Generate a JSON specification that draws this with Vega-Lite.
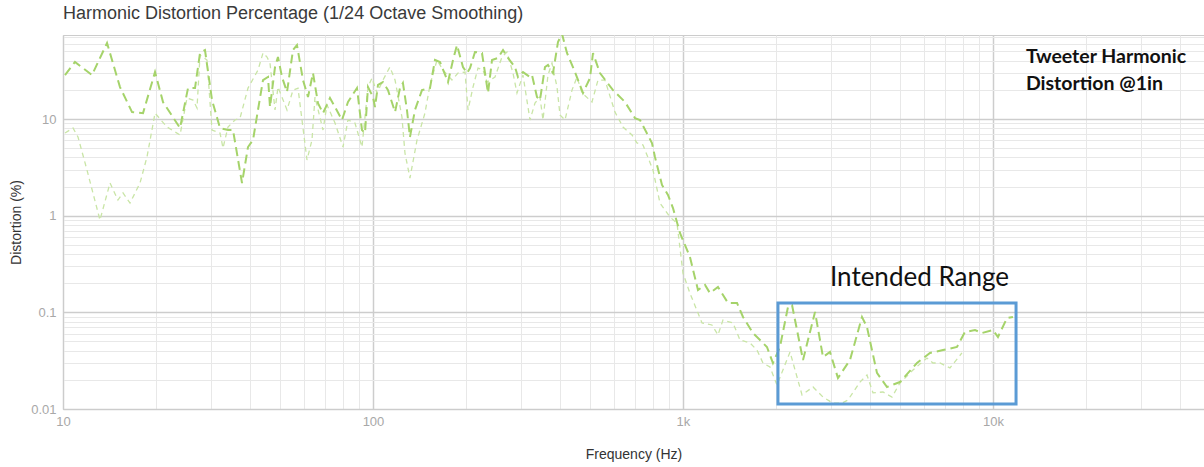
{
  "$schema": "https://vega.github.io/schema/vega-lite/v6.json",
  "width": 1141,
  "height": 374,
  "autosize": "none",
  "padding": {"left": 63, "top": 35, "right": 0, "bottom": 58},
  "background": "white",
  "config": {
    "view": {"stroke": "#cccccc"},
    "font": "Liberation Sans"
  },
  "title": {
    "text": "Harmonic Distortion Percentage (1/24 Octave Smoothing)",
    "anchor": "start",
    "frame": "group",
    "offset": 8,
    "fontSize": 18,
    "fontWeight": "normal",
    "color": "#3a3a3a",
    "font": "Liberation Sans"
  },
  "datasets": {
    "curves": [
      {"s":"A","f":10.15,"v":28.5},{"s":"A","f":10.93,"v":38.9},{"s":"A","f":12.4,"v":28.5},{"s":"A","f":13.87,"v":61.1},{"s":"A","f":15.27,"v":21.4},{"s":"A","f":16.7,"v":11.8},{"s":"A","f":18.12,"v":11.5},{"s":"A","f":19.81,"v":30.6},{"s":"A","f":21.02,"v":15.0},{"s":"A","f":23.85,"v":8.07},{"s":"A","f":25.31,"v":20.9},{"s":"A","f":26.66,"v":20.9},{"s":"A","f":27.67,"v":48.2},{"s":"A","f":28.71,"v":51.7},{"s":"A","f":30.25,"v":15.7},{"s":"A","f":32.1,"v":8.07},{"s":"A","f":34.06,"v":7.7},{"s":"A","f":35.35,"v":7.7},{"s":"A","f":37.8,"v":2.18},{"s":"A","f":39.52,"v":5.13},{"s":"A","f":41.02,"v":6.07},{"s":"A","f":42.56,"v":12.4},{"s":"A","f":44.18,"v":25.3},{"s":"A","f":45.85,"v":27.2},{"s":"A","f":46.53,"v":13.3},{"s":"A","f":48.3,"v":34.5},{"s":"A","f":49.38,"v":43.8},{"s":"A","f":50.87,"v":27.2},{"s":"A","f":52.8,"v":19.0},{"s":"A","f":55.2,"v":51.7},{"s":"A","f":56.86,"v":58.2},{"s":"A","f":59.46,"v":25.3},{"s":"A","f":61.71,"v":16.9},{"s":"A","f":64.04,"v":29.9},{"s":"A","f":66.46,"v":14.6},{"s":"A","f":68.98,"v":11.5},{"s":"A","f":72.66,"v":16.5},{"s":"A","f":75.42,"v":13.3},{"s":"A","f":79.43,"v":9.77},{"s":"A","f":83.06,"v":15.0},{"s":"A","f":88.78,"v":20.9},{"s":"A","f":92.15,"v":7.7},{"s":"A","f":94.24,"v":7.16},{"s":"A","f":96.36,"v":21.4},{"s":"A","f":100,"v":16.9},{"s":"A","f":101.5,"v":13.3},{"s":"A","f":103.8,"v":22.5},{"s":"A","f":107.7,"v":24.1},{"s":"A","f":111.8,"v":19.9},{"s":"A","f":117.8,"v":11.8},{"s":"A","f":122.2,"v":20.9},{"s":"A","f":124.9,"v":23.6},{"s":"A","f":128.7,"v":12.4},{"s":"A","f":131.6,"v":6.51},{"s":"A","f":136.6,"v":12.4},{"s":"A","f":143.9,"v":19.9},{"s":"A","f":152.7,"v":20.9},{"s":"A","f":158.5,"v":40.8},{"s":"A","f":164.5,"v":38.9},{"s":"A","f":174.6,"v":24.1},{"s":"A","f":181.2,"v":40.8},{"s":"A","f":186.6,"v":58.2},{"s":"A","f":195.1,"v":34.5},{"s":"A","f":201.1,"v":29.9},{"s":"A","f":205.6,"v":33.7},{"s":"A","f":213.3,"v":49.3},{"s":"A","f":224.7,"v":48.2},{"s":"A","f":235.0,"v":18.6},{"s":"A","f":242.1,"v":40.8},{"s":"A","f":253.1,"v":42.8},{"s":"A","f":262.7,"v":51.7},{"s":"A","f":272.6,"v":42.8},{"s":"A","f":287.1,"v":34.5},{"s":"A","f":293.6,"v":27.2},{"s":"A","f":304.7,"v":30.6},{"s":"A","f":321.0,"v":27.2},{"s":"A","f":325.8,"v":28.5},{"s":"A","f":338.1,"v":16.9},{"s":"A","f":345.7,"v":15.7},{"s":"A","f":358.8,"v":34.5},{"s":"A","f":366.9,"v":36.2},{"s":"A","f":380.8,"v":29.9},{"s":"A","f":395.2,"v":62.7},{"s":"A","f":407.1,"v":76},{"s":"A","f":422.5,"v":48.2},{"s":"A","f":448.4,"v":30.6},{"s":"A","f":475.8,"v":18.6},{"s":"A","f":501.2,"v":26.5},{"s":"A","f":512.5,"v":48.2},{"s":"A","f":539.8,"v":29.9},{"s":"A","f":594.6,"v":19.9},{"s":"A","f":650.0,"v":15.0},{"s":"A","f":700.3,"v":10.2},{"s":"A","f":726.7,"v":9.77},{"s":"A","f":794.3,"v":5.65},{"s":"A","f":812.2,"v":4.05},{"s":"A","f":855.7,"v":2.08},{"s":"A","f":894.6,"v":1.64},{"s":"A","f":928.5,"v":1.2},{"s":"A","f":977.9,"v":0.662},{"s":"A","f":1053,"v":0.374},{"s":"A","f":1118,"v":0.17},{"s":"A","f":1178,"v":0.192},{"s":"A","f":1222,"v":0.158},{"s":"A","f":1297,"v":0.183},{"s":"A","f":1397,"v":0.125},{"s":"A","f":1494,"v":0.125},{"s":"A","f":1562,"v":0.0895},{"s":"A","f":1682,"v":0.0611},{"s":"A","f":1866,"v":0.0438},{"s":"A","f":1951,"v":0.0299},{"s":"A","f":2055,"v":0.0438},{"s":"A","f":2182,"v":0.114},{"s":"A","f":2248,"v":0.119},{"s":"A","f":2439,"v":0.0321},{"s":"A","f":2667,"v":0.101},{"s":"A","f":2829,"v":0.0345},{"s":"A","f":2980,"v":0.0389},{"s":"A","f":3162,"v":0.0209},{"s":"A","f":3457,"v":0.0321},{"s":"A","f":3780,"v":0.0895},{"s":"A","f":3922,"v":0.0705},{"s":"A","f":4225,"v":0.0236},{"s":"A","f":4551,"v":0.0169},{"s":"A","f":5012,"v":0.019},{"s":"A","f":5687,"v":0.0299},{"s":"A","f":6264,"v":0.038},{"s":"A","f":6898,"v":0.0407},{"s":"A","f":7653,"v":0.0438},{"s":"A","f":8122,"v":0.0626},{"s":"A","f":8749,"v":0.0656},{"s":"A","f":9215,"v":0.0611},{"s":"A","f":10000,"v":0.0656},{"s":"A","f":10378,"v":0.0556},{"s":"A","f":11097,"v":0.0873},{"s":"A","f":11600,"v":0.0895},
      {"s":"B","f":10.15,"v":7.16},{"s":"B","f":10.77,"v":8.07},{"s":"B","f":11.18,"v":6.51},{"s":"B","f":11.95,"v":2.97},{"s":"B","f":13.16,"v":0.902},{"s":"B","f":14.18,"v":2.18},{"s":"B","f":15.04,"v":1.45},{"s":"B","f":15.62,"v":1.72},{"s":"B","f":16.45,"v":1.35},{"s":"B","f":17.72,"v":2.18},{"s":"B","f":18.66,"v":4.05},{"s":"B","f":19.81,"v":11.5},{"s":"B","f":21.65,"v":8.27},{"s":"B","f":23.85,"v":6.83},{"s":"B","f":25.12,"v":16.5},{"s":"B","f":26.27,"v":15.7},{"s":"B","f":27.06,"v":13.0},{"s":"B","f":27.67,"v":45.9},{"s":"B","f":29.14,"v":40.8},{"s":"B","f":30.25,"v":7.7},{"s":"B","f":32.1,"v":7.16},{"s":"B","f":32.82,"v":5.01},{"s":"B","f":34.06,"v":8.27},{"s":"B","f":35.88,"v":9.77},{"s":"B","f":37.24,"v":10.2},{"s":"B","f":39.52,"v":20.9},{"s":"B","f":42.56,"v":32.1},{"s":"B","f":44.18,"v":48.2},{"s":"B","f":45.51,"v":43.8},{"s":"B","f":46.53,"v":37.9},{"s":"B","f":48.3,"v":12.4},{"s":"B","f":49.38,"v":21.4},{"s":"B","f":52.8,"v":12.4},{"s":"B","f":55.2,"v":19.9},{"s":"B","f":57.29,"v":20.9},{"s":"B","f":59.02,"v":9.77},{"s":"B","f":61.25,"v":3.77},{"s":"B","f":63.57,"v":6.07},{"s":"B","f":65.0,"v":16.9},{"s":"B","f":68.98,"v":7.7},{"s":"B","f":71.06,"v":14.0},{"s":"B","f":75.42,"v":9.1},{"s":"B","f":80.03,"v":5.13},{"s":"B","f":83.06,"v":9.77},{"s":"B","f":87.46,"v":9.1},{"s":"B","f":92.15,"v":5.13},{"s":"B","f":96.36,"v":21.4},{"s":"B","f":99.26,"v":26.5},{"s":"B","f":103.0,"v":18.6},{"s":"B","f":107.7,"v":25.3},{"s":"B","f":113.4,"v":34.5},{"s":"B","f":117.8,"v":25.3},{"s":"B","f":124.0,"v":10.5},{"s":"B","f":126.8,"v":4.45},{"s":"B","f":131.6,"v":2.45},{"s":"B","f":138.7,"v":6.07},{"s":"B","f":147.1,"v":11.5},{"s":"B","f":152.7,"v":22.5},{"s":"B","f":160.9,"v":40.8},{"s":"B","f":168.2,"v":32.1},{"s":"B","f":179.8,"v":25.3},{"s":"B","f":188.0,"v":29.9},{"s":"B","f":198.1,"v":30.6},{"s":"B","f":202.6,"v":12.4},{"s":"B","f":210.2,"v":21.4},{"s":"B","f":218.2,"v":33.7},{"s":"B","f":226.4,"v":32.1},{"s":"B","f":233.3,"v":24.1},{"s":"B","f":247.5,"v":27.2},{"s":"B","f":260.7,"v":43.8},{"s":"B","f":270.6,"v":49.3},{"s":"B","f":282.9,"v":29.9},{"s":"B","f":291.4,"v":18.6},{"s":"B","f":304.7,"v":28.5},{"s":"B","f":321.0,"v":9.77},{"s":"B","f":333.1,"v":14.6},{"s":"B","f":345.7,"v":16.9},{"s":"B","f":353.5,"v":9.77},{"s":"B","f":366.9,"v":28.5},{"s":"B","f":378.0,"v":37.9},{"s":"B","f":392.3,"v":21.4},{"s":"B","f":401.1,"v":11.0},{"s":"B","f":416.3,"v":9.77},{"s":"B","f":438.5,"v":19.9},{"s":"B","f":455.1,"v":27.2},{"s":"B","f":472.3,"v":18.6},{"s":"B","f":508.7,"v":15.0},{"s":"B","f":531.9,"v":25.3},{"s":"B","f":560.2,"v":25.3},{"s":"B","f":603.5,"v":11.8},{"s":"B","f":640.4,"v":8.27},{"s":"B","f":684.7,"v":6.83},{"s":"B","f":710.7,"v":5.65},{"s":"B","f":743.0,"v":5.39},{"s":"B","f":800.2,"v":2.97},{"s":"B","f":843.0,"v":1.35},{"s":"B","f":908.0,"v":0.968},{"s":"B","f":956.4,"v":0.839},{"s":"B","f":1000,"v":0.255},{"s":"B","f":1053,"v":0.158},{"s":"B","f":1152,"v":0.0776},{"s":"B","f":1240,"v":0.074},{"s":"B","f":1297,"v":0.0583},{"s":"B","f":1346,"v":0.0833},{"s":"B","f":1450,"v":0.0776},{"s":"B","f":1527,"v":0.0518},{"s":"B","f":1645,"v":0.0482},{"s":"B","f":1733,"v":0.0407},{"s":"B","f":1812,"v":0.0299},{"s":"B","f":1908,"v":0.0272},{"s":"B","f":2010,"v":0.0177},{"s":"B","f":2215,"v":0.0389},{"s":"B","f":2421,"v":0.014},{"s":"B","f":2627,"v":0.0169},{"s":"B","f":2829,"v":0.0133},{"s":"B","f":3047,"v":0.0115},{"s":"B","f":3258,"v":0.0115},{"s":"B","f":3406,"v":0.0124},{"s":"B","f":3724,"v":0.019},{"s":"B","f":3922,"v":0.0225},{"s":"B","f":4101,"v":0.0147},{"s":"B","f":4418,"v":0.015},{"s":"B","f":4724,"v":0.0133},{"s":"B","f":5012,"v":0.0186},{"s":"B","f":5521,"v":0.0253},{"s":"B","f":6125,"v":0.0337},{"s":"B","f":6405,"v":0.0299},{"s":"B","f":6745,"v":0.0299},{"s":"B","f":7266,"v":0.0266},{"s":"B","f":7943,"v":0.038}
    ],
    "notes": [
      {"f": 12770, "v": 43.8, "label": "Tweeter Harmonic"},
      {"f": 12770, "v": 23.0, "label": "Distortion @1in"}
    ],
    "range": [
      {"f": 2025, "f2": 11870, "v": 0.01127, "v2": 0.125, "label": "Intended Range", "lf": 2980, "lv": 0.226}
    ]
  },
  "encoding": {
    "x": {
      "field": "f", "type": "quantitative",
      "scale": {"type": "log", "domain": [10, 47950], "nice": false},
      "axis": {
        "title": "Frequency (Hz)",
        "titleFont": "Liberation Sans", "titleFontSize": 14, "titleFontWeight": "normal", "titleColor": "#333333", "titlePadding": 19,
        "values": [10,20,30,40,50,60,70,80,90,100,200,300,400,500,600,700,800,900,1000,2000,3000,4000,5000,6000,7000,8000,9000,10000,20000,30000,40000],
        "labelExpr": "datum.value == 10 ? '10' : datum.value == 100 ? '100' : datum.value == 1000 ? '1k' : datum.value == 10000 ? '10k' : ''",
        "labelFont": "Liberation Sans", "labelFontSize": 13, "labelColor": "#a8a8a8", "labelPadding": 6, "labelFlush": false, "labelOverlap": false,
        "ticks": false,
        "domainColor": "#cccccc",
        "grid": true,
        "gridColor": {"condition": {"test": "datum.value == 10 || datum.value == 100 || datum.value == 1000 || datum.value == 10000", "value": "#cdcdcd"}, "value": "#e8e8e8"},
        "gridWidth": {"condition": {"test": "datum.value == 10 || datum.value == 100 || datum.value == 1000 || datum.value == 10000", "value": 1.5}, "value": 1}
      }
    },
    "y": {
      "field": "v", "type": "quantitative",
      "scale": {"type": "log", "domain": [0.01, 74], "nice": false},
      "axis": {
        "title": "Distortion (%)",
        "titleFont": "Liberation Sans", "titleFontSize": 14, "titleFontWeight": "normal", "titleColor": "#333333", "titlePadding": 7,
        "values": [0.01,0.02,0.03,0.04,0.05,0.06,0.07,0.08,0.09,0.1,0.2,0.3,0.4,0.5,0.6,0.7,0.8,0.9,1,2,3,4,5,6,7,8,9,10,20,30,40,50,60,70],
        "labelExpr": "datum.value == 0.01 ? '0.01' : datum.value == 0.1 ? '0.1' : datum.value == 1 ? '1' : datum.value == 10 ? '10' : ''",
        "labelFont": "Liberation Sans", "labelFontSize": 13, "labelColor": "#a8a8a8", "labelPadding": 7, "labelOverlap": false,
        "ticks": false,
        "domainColor": "#cccccc",
        "grid": true,
        "gridColor": {"condition": {"test": "datum.value == 0.01 || datum.value == 0.1 || datum.value == 1 || datum.value == 10", "value": "#cdcdcd"}, "value": "#e8e8e8"},
        "gridWidth": {"condition": {"test": "datum.value == 0.01 || datum.value == 0.1 || datum.value == 1 || datum.value == 10", "value": 1.5}, "value": 1}
      }
    }
  },
  "layer": [
    {
      "data": {"name": "curves"},
      "transform": [{"filter": "datum.s == 'B'"}],
      "mark": {"type": "line", "clip": true, "color": "#c9e5a6", "strokeWidth": 1.3, "strokeDash": [5, 4]},
      "encoding": {}
    },
    {
      "data": {"name": "curves"},
      "transform": [{"filter": "datum.s == 'A'"}],
      "mark": {"type": "line", "clip": true, "color": "#a5d36a", "strokeWidth": 2, "strokeDash": [9, 5]},
      "encoding": {}
    },
    {
      "data": {"name": "range"},
      "mark": {"type": "rect", "filled": false, "stroke": "#5b9bd5", "strokeWidth": 3},
      "encoding": {
        "x": {"field": "f", "type": "quantitative"},
        "x2": {"field": "f2"},
        "y": {"field": "v", "type": "quantitative"},
        "y2": {"field": "v2"}
      }
    },
    {
      "data": {"name": "range"},
      "mark": {"type": "text", "align": "left", "baseline": "middle", "font": "Lato", "fontSize": 26, "color": "#111111"},
      "encoding": {
        "x": {"field": "lf", "type": "quantitative"},
        "y": {"field": "lv", "type": "quantitative"},
        "text": {"field": "label"}
      }
    },
    {
      "data": {"name": "notes"},
      "mark": {"type": "text", "align": "left", "baseline": "middle", "font": "Lato", "fontWeight": "bold", "fontSize": 19.5, "color": "#111111"},
      "encoding": {
        "text": {"field": "label"}
      }
    }
  ]
}
